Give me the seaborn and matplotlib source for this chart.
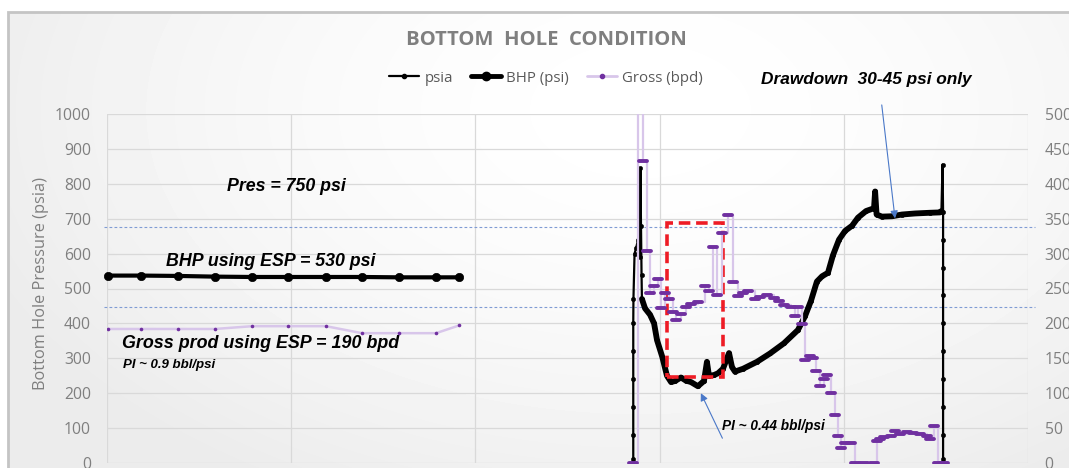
import numpy as np
import pandas as pd
import matplotlib.pyplot as plt
import seaborn as sns
from matplotlib.lines import Line2D
from matplotlib.patches import Rectangle
from matplotlib.markers import MarkerStyle

# --- ESP period (left block) ---
esp_x = [0.5, 18.5, 38.5, 58.6, 78.7, 98.3, 118.9, 138.4, 158.5, 178.6, 191.1]
esp_bhp = [537, 537, 536, 534, 533, 533, 533, 533, 532, 532, 532]
esp_gross = [192, 192, 192, 192, 196, 196, 196, 186, 186, 186, 197]

# --- gauge pressure during test (psia) ---
psia_x = [285.7, 285.7, 285.7, 285.7, 285.7, 285.7, 285.8, 286.4, 287.2, 288.3,
          289.1, 289.6, 289.9, 290.2, 290.4, 292.1, 294.8, 297.0, 298.6, 301.4,
          304.0, 306.2, 308.4, 311.6, 314.3, 317.0, 320.8, 324.1, 325.7, 326.8,
          329.5, 331.7, 334.4, 336.6, 337.7, 339.3, 340.9, 345.3, 352.9, 360.0,
          367.5, 375.1, 378.9, 382.2, 385.4, 388.2, 391.4, 394.1, 397.4, 400.7,
          404.5, 407.7, 412.1, 416.4, 417.0, 417.8, 420.7, 426.2, 431.6, 438.7,
          446.8, 452.2, 453.0, 453.6, 453.9, 453.9, 453.9, 453.9, 453.9, 453.9,
          453.9, 453.9, 453.9, 453.9]
psia_p = [12, 80, 160, 240, 320, 400, 470, 600, 615, 640,
          590, 845, 680, 540, 470, 443, 425, 400, 352, 305,
          250, 232, 235, 245, 236, 232, 220, 235, 290, 250,
          252, 257, 270, 300, 315, 275, 262, 270, 290, 314,
          343, 381, 420, 465, 520, 535, 545, 595, 640, 665,
          680, 703, 722, 730, 778, 712, 706, 707, 712, 715,
          717, 718, 722, 855, 720, 640, 560, 480, 400, 320,
          240, 160, 80, 12]

# --- gross rate during test (bpd) ---
gross_x = [285.7, 288.3, 291.0, 293.2, 295.0, 296.8, 299.0, 300.9, 302.9, 305.2,
           307.1, 308.9, 311.7, 314.5, 317.3, 321.1, 324.8, 326.7, 329.1, 331.3,
           334.1, 336.9, 339.7, 342.5, 345.3, 348.1, 351.8, 354.6, 358.4, 362.1,
           364.9, 367.7, 371.4, 373.3, 375.1, 377.4, 378.9, 381.7, 383.3, 384.9,
           387.1, 389.3, 391.0, 393.0, 395.2, 397.0, 398.7, 400.7, 404.1, 406.1,
           411.0, 416.2, 417.9, 419.6, 421.8, 425.5, 427.9, 430.5, 434.2, 437.7,
           441.4, 445.2, 447.0, 449.1, 451.2, 454.4]
gross_q = [0, 600, 433, 304, 244, 254, 264, 222, 243, 235,
           217, 205, 214, 223, 228, 231, 254, 247, 310, 241,
           329, 355, 259, 239, 243, 247, 235, 238, 241, 236,
           232, 226, 223, 211, 224, 199, 147, 153, 151, 132,
           111, 120, 126, 101, 69, 39, 21, 28, 29, 0,
           0, 0, 32, 35, 37, 39, 46, 42, 44, 42.5,
           42, 39, 35, 53, 0, 0]

ref_levels = [677, 448]
box_x = [303.8, 334.6]
box_p = [246, 688]

GRAY = '#7f7f7f'
PURPLE = '#7030a0'
LILAC = '#d8c6ea'
ARROW = '#4a78c8'

sns.set_style("white")
plt.rcParams['font.family'] = ['Open Sans', 'DejaVu Sans']

fig = plt.figure(figsize=(10.69, 4.68), dpi=100)

# soft background gradient inside the chart frame
bg = fig.add_axes([0, 0, 1, 1], zorder=-10)
yy, xx = np.mgrid[0:468, 0:1069]
r = np.hypot((xx - 640) / 700.0, (yy - 110) / 430.0)
grad = 1 - 0.075 * np.clip(r, 0, 1) ** 1.6
grad[:, :8] = 1
grad[:12, :] = 1
bg.imshow(grad, cmap='gray', vmin=0, vmax=1, extent=[0, 1, 0, 1], aspect='auto')
bg.axis('off')
fig.patches.append(Rectangle((7.5 / 1069, -0.1), 1.2, (468 - 11.5) / 468 + 0.1,
                             transform=fig.transFigure, fill=False,
                             edgecolor='#c4c4c4', lw=2))

ax = fig.add_axes([107 / 1069, 1 - 463 / 468, 921 / 1069, 349 / 468])
ax.patch.set_alpha(0)
ax2 = ax.twinx()

# ESP block
esp = pd.DataFrame({'x': esp_x, 'bhp': esp_bhp, 'gross': esp_gross})
sns.lineplot(data=esp, x='x', y='bhp', ax=ax, color='black', lw=3, marker='o',
             markersize=6, markeredgecolor='black', markeredgewidth=0.5,
             estimator=None, sort=False, clip_on=False)

# test block, psia gauge
test = pd.DataFrame({'x': psia_x, 'p': psia_p})
sns.lineplot(data=test, x='x', y='p', ax=ax, color='black', lw=1.6, marker='o',
             markersize=3.2, markeredgecolor='black', markeredgewidth=0.3,
             estimator=None, sort=False)
dense = test[(test['x'] >= 290.4) & (test['x'] <= 453.0)]
sns.lineplot(data=dense, x='x', y='p', ax=ax, color='black', lw=4.2,
             estimator=None, sort=False, solid_joinstyle='round')

# gross rate on right axis
sns.lineplot(data=esp, x='x', y='gross', ax=ax2, color=LILAC, lw=1.8, marker='o',
             markersize=2.6, markerfacecolor=PURPLE, markeredgecolor=PURPLE,
             markeredgewidth=0, estimator=None, sort=False)
gt = pd.DataFrame({'x': gross_x, 'q': gross_q})
sns.lineplot(data=gt, x='x', y='q', ax=ax2, color=LILAC, lw=1.6,
             drawstyle='steps-post', estimator=None, sort=False)
ax2.plot(gt['x'], gt['q'], ls='none', marker=MarkerStyle('_', capstyle='round'),
         markersize=5.5, markeredgewidth=2.8, color=PURPLE)

# reference lines and highlight box
for lvl in ref_levels:
    ax.axhline(lvl, xmin=-0.003, xmax=1.0076, color='#7f9bd4', lw=0.8,
               ls=(0, (2.5, 2)), clip_on=False, zorder=1)
ax.add_patch(Rectangle((box_x[0], box_p[0]), box_x[1] - box_x[0], box_p[1] - box_p[0],
                       fill=False, edgecolor='#ee1c25', lw=2.6, ls=(0, (3.2, 1.6)),
                       zorder=5))

ax.set_xlim(0, 500)
ax.set_ylim(0, 1000)
ax2.set_ylim(0, 500)
ax.set_xticks(range(0, 501, 100))
ax.set_yticks(range(0, 1001, 100))
ax2.set_yticks(range(0, 501, 50))
ax.grid(True, color='#d9d9d9', lw=0.9)
ax2.grid(False)
for a in (ax, ax2):
    for s in a.spines.values():
        s.set_visible(False)
    a.set_xlabel('')
    a.set_ylabel('')
ax.tick_params(axis='both', length=0, labelbottom=False, labelcolor=GRAY,
               labelsize=11.3, pad=11.5)
ax2.tick_params(axis='y', length=0, labelcolor=GRAY, labelsize=11.3, pad=12)

ann = dict(family=['Liberation Sans', 'DejaVu Sans'], weight='bold', style='italic',
           color='black')
ax.text(65.1, 792, 'Pres = 750 psi', ha='left', va='center', fontsize=12.8, **ann)
ax.text(32.3, 577, 'BHP using ESP = 530 psi', ha='left', va='center', fontsize=12.8, **ann)
ax.text(8.1, 341, 'Gross prod using ESP = 190 bpd', ha='left', va='center',
        fontsize=12.9, **ann)
ax.text(8.7, 281, 'PI ~ 0.9 bbl/psi', ha='left', va='center', fontsize=9.5, **ann)
ax.text(333.9, 106, 'PI ~ 0.44 bbl/psi', ha='left', va='center', fontsize=9.8, **ann)
ax.text(355.0, 1100, 'Drawdown  30-45 psi only', ha='left', va='center',
        fontsize=12.4, clip_on=False, **ann)

arrow = dict(arrowstyle='-|>', color=ARROW, lw=0.8, mutation_scale=11,
             shrinkA=0, shrinkB=0)
ax.annotate('', xy=(322.4, 200), xytext=(334.1, 71), arrowprops=arrow)
ax.annotate('', xy=(427.8, 701), xytext=(420.6, 1026), arrowprops=arrow,
            annotation_clip=False)

fig.text(41 / 1069, 1 - 284 / 468, 'Bottom Hole Pressure (psia)', rotation=90,
         ha='center', va='center', fontsize=11.8, color=GRAY)
fig.text(546 / 1069, 1 - 40 / 468, 'BOTTOM  HOLE  CONDITION', ha='center',
         va='center', fontsize=14.6, weight='bold', color=GRAY)

handles = [
    Line2D([], [], color='black', lw=1.6, marker='o', markersize=3),
    Line2D([], [], color='black', lw=3.5, marker='o', markersize=6),
    Line2D([], [], color=LILAC, lw=2, marker='o', markersize=3,
           markerfacecolor=PURPLE, markeredgecolor=PURPLE),
]
fig.legend(handles, ['psia', 'BHP (psi)', 'Gross (bpd)'], loc='center',
           bbox_to_anchor=(546 / 1069, 1 - 78 / 468), ncol=3, frameon=False,
           fontsize=10.8, labelcolor='#595959', handlelength=2.0,
           handletextpad=0.35, columnspacing=1.2)

fig.savefig('out.png', dpi=100)
